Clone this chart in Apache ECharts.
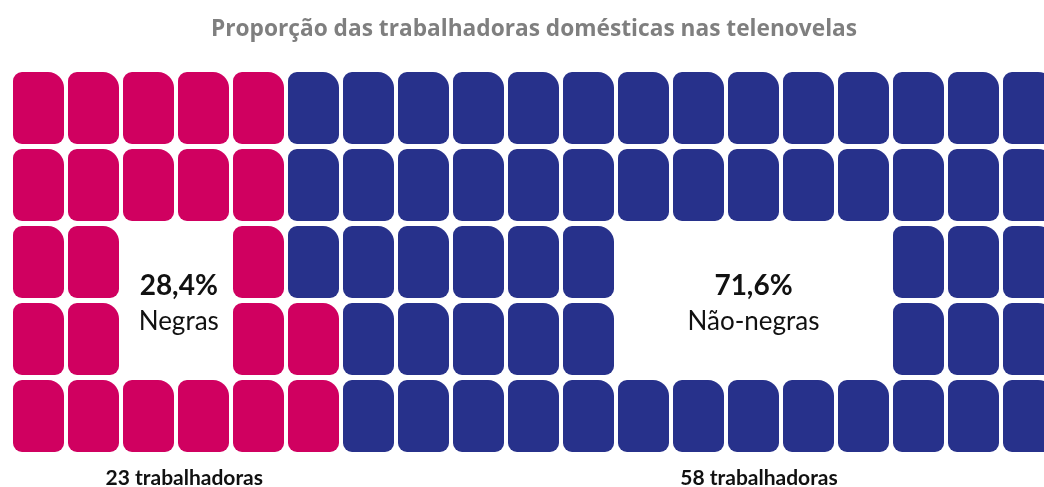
<!DOCTYPE html>
<html>
<head>
<meta charset="utf-8">
<script src="https://cdn.jsdelivr.net/npm/echarts@6/dist/echarts.min.js"></script>
<style>
  html, body { margin: 0; padding: 0; background: #fff; }
  #chart { width: 1044px; height: 487px; }
</style>
</head>
<body>
<div id="chart"></div>
<script>
const titleText = 'Proporção das trabalhadoras domésticas nas telenovelas';
const groups = ['Negras', 'Não-negras'];
const percents = ['28,4%', '71,6%'];
const counts = [23, 58];
const countUnit = 'trabalhadoras';

// columns occupied in each of the 5 rows (top to bottom)
const negrasCols = [
    [0, 1, 2, 3, 4],
    [0, 1, 2, 3, 4],
    [0, 1, 4],
    [0, 1, 4, 5],
    [0, 1, 2, 3, 4, 5]
];
const naoNegrasCols = [
    [5, 6, 7, 8, 9, 10, 11, 12, 13, 14, 15, 16, 17, 18],
    [5, 6, 7, 8, 9, 10, 11, 12, 13, 14, 15, 16, 17, 18],
    [5, 6, 7, 8, 9, 10, 16, 17, 18],
    [6, 7, 8, 9, 10, 16, 17, 18],
    [6, 7, 8, 9, 10, 11, 12, 13, 14, 15, 16, 17, 18]
];
// column where each group's labels sit
const labelCols = [3.05, 13.5];
const countCols = [3.15, 13.6];

const colors = ['#D00060', '#27318B'];
const fontFamily = 'Lato, "Open Sans", sans-serif';

const chart = echarts.init(document.getElementById('chart'));

const cells = [];
[negrasCols, naoNegrasCols].forEach(function (rows, g) {
    rows.forEach(function (cols, r) {
        cols.forEach(function (c) {
            cells.push([c, r, g]);
        });
    });
});

function renderCell(params, api) {
    const p0 = api.coord([api.value(0), api.value(1)]);
    const p1 = api.coord([api.value(0) + 1, api.value(1) + 1]);
    const gx = 2, gy = 2.5;
    return {
        type: 'rect',
        shape: {
            x: p0[0] + gx,
            y: p0[1] + gy,
            width: p1[0] - p0[0] - 2 * gx,
            height: p1[1] - p0[1] - 2 * gy,
            r: [9, 16, 9, 9]
        },
        style: { fill: colors[api.value(2)] }
    };
}

function renderLabel(params, api) {
    const i = params.dataIndex;
    const mid = api.coord([api.value(0), 3]);
    const bottom = api.coord([api.value(1), 5]);
    return {
        type: 'group',
        children: [
            {
                type: 'text',
                style: {
                    x: mid[0], y: mid[1] - 15, text: percents[i],
                    align: 'center', verticalAlign: 'middle',
                    font: 'bold 28px ' + fontFamily, fill: '#111'
                }
            },
            {
                type: 'text',
                style: {
                    x: mid[0], y: mid[1] + 21, text: groups[i],
                    align: 'center', verticalAlign: 'middle',
                    font: '26px ' + fontFamily, fill: '#111'
                }
            },
            {
                type: 'text',
                style: {
                    x: bottom[0], y: bottom[1] + 24, text: counts[i] + ' ' + countUnit,
                    align: 'center', verticalAlign: 'middle',
                    font: 'bold 21px ' + fontFamily, fill: '#111'
                }
            }
        ]
    };
}

const option = {
    backgroundColor: '#fff',
    animation: false,
    title: {
        text: titleText,
        left: 206,
        top: 13,
        textStyle: { color: '#7f7f7f', fontSize: 22.7, fontWeight: 'bold', fontFamily: '"Open Sans", sans-serif' }
    },
    // 55 px per column; the last column runs off the right edge
    grid: { left: 11, top: 69.5, right: 0, height: 385 },
    xAxis: { type: 'value', min: 0, max: 1033 / 55, show: false },
    yAxis: { type: 'value', min: 0, max: 5, inverse: true, show: false },
    series: [
        {
            type: 'custom',
            renderItem: renderCell,
            data: cells,
            clip: false
        },
        {
            type: 'custom',
            renderItem: renderLabel,
            data: labelCols.map(function (c, i) { return [c, countCols[i]]; }),
            clip: false
        }
    ]
};
chart.setOption(option);
</script>
</body>
</html>
